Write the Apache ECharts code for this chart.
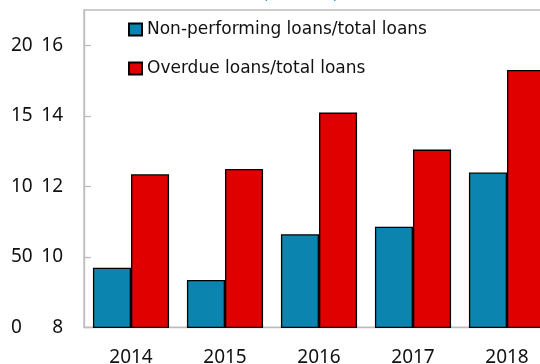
<!DOCTYPE html>
<html>
<head>
<meta charset="utf-8">
<script src="https://cdn.jsdelivr.net/npm/echarts@6/dist/echarts.min.js"></script>
<style>
  html, body { margin: 0; padding: 0; background: #fff; }
  #chart { width: 540px; height: 364px; }
</style>
</head>
<body>
<div id="chart"></div>
<script>
// Loan quality ratios by year (percent)
const years = ['2014', '2015', '2016', '2017', '2018'];
const nonPerformingRatio = [9.69, 9.34, 10.64, 10.85, 12.39];
const overdueRatio = [12.34, 12.49, 14.09, 13.04, 15.30];

// Outer left scale labels, one per tick from the bottom up
const outerTickLabels = ['0', '50', '10', '15', '20'];

const FONT = '"Noto Sans", "Open Sans", sans-serif';
const LEGEND_FONT = '"DejaVu Sans", "Noto Sans", sans-serif';
const AXIS_GREY = '#bdbdbd';

const chart = echarts.init(document.getElementById('chart'), null, { renderer: 'canvas' });

chart.setOption({
  animation: false,
  backgroundColor: '#ffffff',
  textStyle: { fontFamily: FONT },
  graphic: [{
    type: 'text',
    left: 262,
    top: -14,
    style: {
      text: '(Percent)',
      fontFamily: LEGEND_FONT,
      fontSize: 17,
      fill: '#1e9fd8'
    }
  }],
  legend: {
    orient: 'vertical',
    left: 128,
    top: 21,
    padding: 0,
    itemWidth: 13,
    itemHeight: 12,
    itemGap: 22,
    icon: 'rect',
    textStyle: { fontFamily: LEGEND_FONT, fontSize: 17, color: '#111' },
    data: ['Non-performing loans/total loans', 'Overdue loans/total loans']
  },
  grid: {
    left: 84,
    top: 10,
    width: 470,
    height: 317.3,
    show: true,
    borderColor: AXIS_GREY,
    borderWidth: 1.3,
    containLabel: false,
    outerBoundsMode: 'none'
  },
  xAxis: {
    type: 'category',
    data: years,
    axisLine: { lineStyle: { color: AXIS_GREY, width: 1.3 } },
    axisTick: { inside: true, length: 6, lineStyle: { color: AXIS_GREY, width: 1.3 } },
    axisLabel: { fontFamily: FONT, fontSize: 19, color: '#111', margin: 21 }
  },
  yAxis: [{
    type: 'value',
    min: 8,
    max: 17,
    interval: 2,
    position: 'left',
    splitLine: { show: false },
    axisLine: { show: true, lineStyle: { color: AXIS_GREY, width: 1.3 } },
    axisTick: { show: true, inside: true, length: 7, lineStyle: { color: AXIS_GREY, width: 1.3 } },
    axisLabel: {
      fontFamily: FONT, fontSize: 19, color: '#111', margin: 21,
      showMaxLabel: false,
      formatter: v => (v > 16 ? '' : String(v))
    }
  }, {
    type: 'value',
    min: 0,
    max: 22.5,
    interval: 5,
    position: 'left',
    splitLine: { show: false },
    axisLine: { show: false },
    axisTick: { show: false },
    axisLabel: {
      fontFamily: FONT, fontSize: 19, color: '#111', margin: 73, align: 'left',
      showMaxLabel: false,
      formatter: v => {
        const i = Math.round(v / 5);
        return outerTickLabels[i] !== undefined && v % 5 === 0 ? outerTickLabels[i] : '';
      }
    }
  }],
  series: [{
    name: 'Non-performing loans/total loans',
    type: 'bar',
    yAxisIndex: 0,
    data: nonPerformingRatio,
    barGap: '0%',
    barCategoryGap: '19%',
    itemStyle: { color: '#0b84b0', borderColor: '#000', borderWidth: 1.3 }
  }, {
    name: 'Overdue loans/total loans',
    type: 'bar',
    yAxisIndex: 0,
    data: overdueRatio,
    barGap: '0%',
    barCategoryGap: '19%',
    itemStyle: { color: '#e00000', borderColor: '#000', borderWidth: 1.3 }
  }]
});
</script>
</body>
</html>
